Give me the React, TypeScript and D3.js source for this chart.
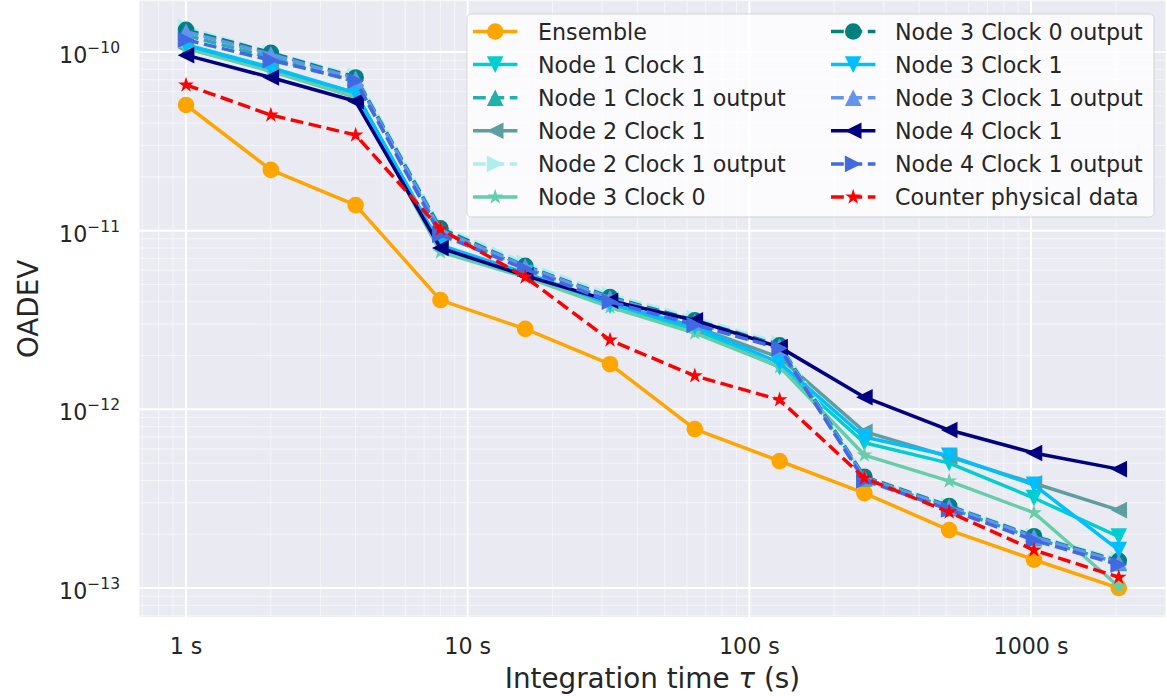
import React from "react";
import * as d3 from "d3";

const taus = [1, 2, 4, 8, 16, 32, 64, 128, 256, 512, 1024, 2048];

const ensemble = [5.05e-11, 2.19e-11, 1.39e-11, 4.09e-12, 2.82e-12, 1.79e-12, 7.76e-13, 5.14e-13, 3.4e-13, 2.11e-13, 1.44e-13, 1.0e-13];
const node1Clock1 = [1.1e-10, 8.2e-11, 5.9e-11, 8.2e-12, 5.7e-12, 3.8e-12, 2.8e-12, 1.72e-12, 6.5e-13, 5.0e-13, 3.19e-13, 1.94e-13];
const node1Clock1Out = [1.24e-10, 9.3e-11, 6.8e-11, 9.9e-12, 6.2e-12, 4.1e-12, 3.05e-12, 2.2e-12, 4.1e-13, 2.8e-13, 1.9e-13, 1.38e-13];
const node2Clock1 = [1.05e-10, 7.9e-11, 5.6e-11, 8.0e-12, 5.7e-12, 3.9e-12, 2.9e-12, 1.95e-12, 7.5e-13, 5.43e-13, 3.86e-13, 2.73e-13];
const node2Clock1Out = [1.38e-10, 9.9e-11, 7.4e-11, 1.06e-11, 6.6e-12, 4.4e-12, 3.25e-12, 2.35e-12, 4.25e-13, 2.9e-13, 1.97e-13, 1.45e-13];
const node3Clock0 = [1.05e-10, 7.8e-11, 5.6e-11, 7.6e-12, 5.5e-12, 3.74e-12, 2.67e-12, 1.73e-12, 5.55e-13, 3.97e-13, 2.64e-13, 1.02e-13];
const node3Clock0Out = [1.33e-10, 9.9e-11, 7.2e-11, 1.03e-11, 6.35e-12, 4.25e-12, 3.15e-12, 2.28e-12, 4.2e-13, 2.88e-13, 1.95e-13, 1.42e-13];
const node3Clock1 = [1.09e-10, 8.1e-11, 5.9e-11, 8.3e-12, 5.8e-12, 3.9e-12, 2.9e-12, 1.82e-12, 7.0e-13, 5.5e-13, 3.78e-13, 1.63e-13];
const node3Clock1Out = [1.3e-10, 9.7e-11, 7.1e-11, 1.01e-11, 6.3e-12, 4.2e-12, 3.1e-12, 2.25e-12, 4.15e-13, 2.85e-13, 1.93e-13, 1.4e-13];
const node4Clock1 = [9.6e-11, 7.2e-11, 5.3e-11, 8.0e-12, 5.6e-12, 4.05e-12, 3.15e-12, 2.23e-12, 1.17e-12, 7.66e-13, 5.7e-13, 4.63e-13];
const node4Clock1Out = [1.17e-10, 9.0e-11, 6.9e-11, 9.5e-12, 6.1e-12, 4.0e-12, 2.97e-12, 2.2e-12, 4.0e-13, 2.75e-13, 1.85e-13, 1.35e-13];
const counterPhysical = [6.54e-11, 4.44e-11, 3.43e-11, 1.02e-11, 5.5e-12, 2.44e-12, 1.54e-12, 1.13e-12, 4.13e-13, 2.66e-13, 1.63e-13, 1.15e-13];

const seriesNames = [
  "Ensemble", "Node 1 Clock 1", "Node 1 Clock 1 output", "Node 2 Clock 1", "Node 2 Clock 1 output", "Node 3 Clock 0",
  "Node 3 Clock 0 output", "Node 3 Clock 1", "Node 3 Clock 1 output", "Node 4 Clock 1", "Node 4 Clock 1 output", "Counter physical data",
];
const seriesValues = [
  ensemble, node1Clock1, node1Clock1Out, node2Clock1, node2Clock1Out, node3Clock0,
  node3Clock0Out, node3Clock1, node3Clock1Out, node4Clock1, node4Clock1Out, counterPhysical,
];
const seriesColors = [
  "#FFA500", "#00CED1", "#20B2AA", "#5F9EA0", "#AFEEEE", "#66CDAA",
  "#008080", "#00BFFF", "#6495ED", "#000080", "#4169E1", "#FF0000",
];
const seriesMarkers = ["o", "v", "^", "<", ">", "*", "o", "v", "^", "<", ">", "*"];
const seriesDashed = [false, false, true, false, true, false, true, false, true, false, true, true];

const xTickValues = [1, 10, 100, 1000];
const xTickLabels = ["1 s", "10 s", "100 s", "1000 s"];
const yTickExps = [-10, -11, -12, -13];

const W = 1167;
const H = 696;
const FONT = "DejaVu Sans, sans-serif";
const TXT = "#262626";

function markerPath(type: string, r: number): string {
  switch (type) {
    case "v":
      return `M0,${r}L${-r},${-r}L${r},${-r}Z`;
    case "^":
      return `M0,${-r}L${-r},${r}L${r},${r}Z`;
    case "<":
      return `M${-r},0L${r},${-r}L${r},${r}Z`;
    case ">":
      return `M${r},0L${-r},${-r}L${-r},${r}Z`;
    case "*": {
      const inner = r * 0.381966;
      const pts: string[] = [];
      for (let i = 0; i < 10; i++) {
        const rr = i % 2 === 0 ? r : inner;
        const a = -Math.PI / 2 + (i * Math.PI) / 5;
        pts.push(`${(rr * Math.cos(a)).toFixed(2)},${(rr * Math.sin(a)).toFixed(2)}`);
      }
      return "M" + pts.join("L") + "Z";
    }
    default:
      return `M${r},0A${r},${r} 0 1,1 ${-r},0A${r},${r} 0 1,1 ${r},0Z`;
  }
}

export default function App() {
  const lx0 = Math.log10(taus[0]);
  const lx1 = Math.log10(taus[taus.length - 1]);
  const mx = (lx1 - lx0) * 0.05;
  const x = d3.scaleLog().domain([Math.pow(10, lx0 - mx), Math.pow(10, lx1 + mx)]).range([139.4, 1165.4]);
  const y = d3.scaleLog().domain([Math.pow(10, -13.162), Math.pow(10, -9.713)]).range([617, 0.7]);

  const [px0, px1] = x.range();
  const [py0, py1] = y.range();

  const xMinor: number[] = [];
  const yMinor: number[] = [];
  for (let k = -1; k <= 3; k++) {
    for (let m = 2; m <= 9; m++) {
      const v = m * Math.pow(10, k);
      if (v >= x.domain()[0] && v <= x.domain()[1]) xMinor.push(v);
    }
  }
  for (let k = -14; k <= -10; k++) {
    for (let m = 2; m <= 9; m++) {
      const v = m * Math.pow(10, k);
      if (v >= y.domain()[0] && v <= y.domain()[1]) yMinor.push(v);
    }
  }

  const line = d3
    .line<number>()
    .x((_, i) => x(taus[i]))
    .y((d) => y(d));

  const mr = 8.3;
  const lw = 3.5;
  const dash = "12.8,5.6";

  const legendCols = [
    { lineX0: 473, textX: 538 },
    { lineX0: 831, textX: 895 },
  ];
  const legendRowY0 = 31.5;
  const legendRowStep = 33.1;

  return (
    <svg width={W} height={H} style={{ position: "absolute", left: 0, top: 0, background: "#fff" }} fontFamily={FONT}>
      <defs>
        <clipPath id="plotclip">
          <rect x={px0} y={py1} width={px1 - px0} height={py0 - py1} />
        </clipPath>
      </defs>
      <rect x={px0} y={py1} width={px1 - px0} height={py0 - py1} fill="#EAEAF2" />
      <g clipPath="url(#plotclip)">
        {xMinor.map((v, i) => (
          <line key={"xm" + i} x1={x(v)} x2={x(v)} y1={py1} y2={py0} stroke="#fff" strokeWidth={1} opacity={0.55} />
        ))}
        {yMinor.map((v, i) => (
          <line key={"ym" + i} x1={px0} x2={px1} y1={y(v)} y2={y(v)} stroke="#fff" strokeWidth={1} opacity={0.55} />
        ))}
        {xTickValues.map((v, i) => (
          <line key={"xg" + i} x1={x(v)} x2={x(v)} y1={py1} y2={py0} stroke="#fff" strokeWidth={2} />
        ))}
        {yTickExps.map((e, i) => (
          <line key={"yg" + i} x1={px0} x2={px1} y1={y(Math.pow(10, e))} y2={y(Math.pow(10, e))} stroke="#fff" strokeWidth={2} />
        ))}
        {seriesValues.map((vals, s) => (
          <g key={"s" + s}>
            <path
              d={line(vals) || ""}
              fill="none"
              stroke={seriesColors[s]}
              strokeWidth={lw}
              strokeDasharray={seriesDashed[s] ? dash : undefined}
              strokeLinejoin="round"
            />
            {vals.map((v, i) => (
              <path
                key={i}
                d={markerPath(seriesMarkers[s], mr)}
                transform={`translate(${x(taus[i])},${y(v)})`}
                fill={seriesColors[s]}
              />
            ))}
          </g>
        ))}
      </g>

      {xTickValues.map((v, i) => (
        <text key={"xt" + i} x={x(v)} y={654} textAnchor="middle" fontSize={22.2} fill={TXT}>
          {xTickLabels[i]}
        </text>
      ))}
      {yTickExps.map((e, i) => (
        <text key={"yt" + i} x={120} y={y(Math.pow(10, e)) + 11} textAnchor="end" fontSize={22.2} fill={TXT}>
          <tspan>10</tspan>
          <tspan dy={-10} fontSize={15.5}>{"\u2212" + Math.abs(e)}</tspan>
        </text>
      ))}

      <text x={(px0 + px1) / 2} y={688} textAnchor="middle" fontSize={27.8} fill={TXT}>
        Integration time <tspan fontStyle="italic">τ</tspan> (s)
      </text>
      <text
        transform={`translate(38,${(py0 + py1) / 2}) rotate(-90)`}
        textAnchor="middle"
        fontSize={27.8}
        fill={TXT}
      >
        OADEV
      </text>

      <g>
        <rect x={467} y={14} width={687} height={203} rx={4.4} ry={4.4} fill="#fff" fillOpacity={0.8} stroke="#ccc" strokeOpacity={0.8} strokeWidth={1} />
        {seriesNames.map((name, s) => {
          const col = legendCols[Math.floor(s / 6)];
          const ry = legendRowY0 + (s % 6) * legendRowStep;
          const x0 = col.lineX0;
          const x1 = x0 + 44.4;
          return (
            <g key={"lg" + s}>
              <line
                x1={x0}
                x2={x1}
                y1={ry}
                y2={ry}
                stroke={seriesColors[s]}
                strokeWidth={lw}
                strokeDasharray={seriesDashed[s] ? dash : undefined}
              />
              <path d={markerPath(seriesMarkers[s], mr)} transform={`translate(${(x0 + x1) / 2},${ry})`} fill={seriesColors[s]} />
              <text x={col.textX} y={ry + 8} fontSize={22.2} fill={TXT}>
                {name}
              </text>
            </g>
          );
        })}
      </g>
    </svg>
  );
}
